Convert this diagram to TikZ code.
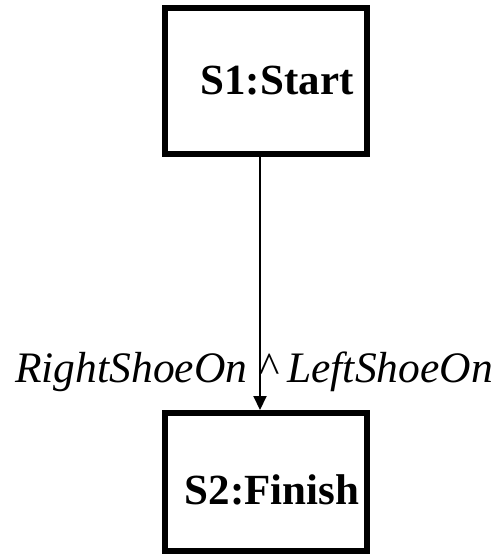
\documentclass[tikz,border=0pt]{standalone}
\usepackage{fontspec}
\setmainfont{Liberation Serif}
\usetikzlibrary{arrows.meta}
\begin{document}
\begin{tikzpicture}[x=1pt,y=-1pt]

	\tikzstyle{state}=[draw,rectangle,line width=6pt,minimum width=202pt,text centered,font=\fontsize{43}{50}\selectfont\bfseries]
	\tikzstyle{trans}=[font=\fontsize{43.5}{50}\selectfont\itshape]

	\useasboundingbox (0,0) rectangle (492,554);

	\node[state,minimum height=146pt] (s1) at (266,81) {\hspace*{22pt}S1:Start};
	\node[state,minimum height=138pt,text height=44pt,text depth=0pt] (s2) at (266,482) {\hspace*{12pt}S2:Finish};

	\draw[-{Triangle[width=13pt,length=14pt]},line width=2pt] ([xshift=-6pt]s1.south) -- ([xshift=-6pt]s2.north) node[trans,pos=0.89,anchor=base,xshift=-6pt] {RightShoeOn \textasciicircum\ LeftShoeOn};

\end{tikzpicture}
\end{document}
